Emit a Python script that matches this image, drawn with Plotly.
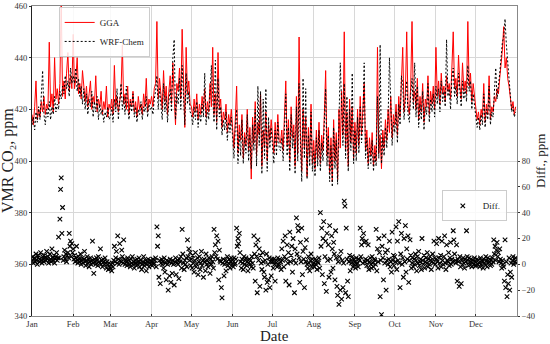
import pandas as pd
import plotly.graph_objects as go

MONTHS = ["Jan", "Feb", "Mar", "Apr", "May", "Jun", "Jul", "Aug", "Sep", "Oct", "Nov", "Dec"]
YEAR_START = "2019-01-01"

# Daily VMR CO2 (ppm), GGA analyser
GGA = [
    418, 414, 421, 431, 416, 420, 417, 423, 419, 425, 418, 422, 420, 446, 421, 426, 419, 440, 424, 428, 422, 430, 463, 425, 431, 424, 434, 442, 427, 433, 428,
    449, 428, 432, 440, 426, 430, 424, 435, 427, 423, 429, 421, 426, 431, 420, 425, 422, 433, 419, 424, 421, 427, 418, 423, 420, 429, 417, 422,
    420, 424, 418, 437, 421, 425, 419, 423, 427, 445, 422, 426, 420, 429, 418, 424, 421, 427, 419, 423, 417, 425, 420, 422, 418, 426, 421, 432, 419, 424, 422,
    425, 421, 428, 430, 454, 424, 432, 426, 420, 435, 423, 429, 418, 427, 433, 422, 438, 425, 414, 430, 427, 436, 424, 451, 429, 413, 444, 426, 431, 422,
    421, 417, 424, 419, 426, 416, 422, 418, 425, 420, 428, 417, 423, 419, 430, 421, 444, 418, 426, 415, 442, 420, 424, 413, 419, 416, 422, 411, 418, 414, 420,
    412, 405, 416, 429, 403, 414, 408, 418, 401, 411, 406, 420, 404, 413, 393, 417, 407, 423, 402, 415, 410, 426, 398, 412, 405, 419, 400, 414, 408, 416,
    410, 403, 415, 406, 418, 408, 407, 412, 404, 419, 431, 406, 416, 400, 421, 409, 414, 398, 425, 403, 448, 411, 396, 420, 405, 417, 394, 413, 402, 422, 399,
    408, 397, 412, 401, 415, 399, 410, 404, 418, 435, 402, 413, 395, 409, 392, 416, 400, 411, 393, 420, 405, 427, 410, 450, 404, 419, 398, 424, 407, 421, 401,
    415, 403, 420, 406, 425, 410, 418, 430, 404, 412, 399, 409, 402, 411, 398, 406, 400, 444, 403, 410, 397, 412, 405, 416, 408, 420, 411, 425, 409, 418,
    414, 422, 410, 425, 417, 428, 444, 419, 426, 450, 421, 418, 429, 454, 423, 427, 420, 432, 416, 425, 419, 430, 415, 424, 421, 433, 418, 427, 422, 429, 420,
    444, 425, 431, 422, 434, 426, 429, 423, 433, 427, 430, 424, 436, 450, 428, 432, 425, 441, 429, 424, 438, 427, 431, 426, 454, 429, 434, 423, 430, 425,
    421, 416, 419, 414, 420, 417, 430, 415, 422, 418, 433, 416, 421, 419, 425, 423, 428, 426, 432, 437, 443, 452, 436, 440, 432, 429, 424, 420, 423, 418, 421,
]

# Daily VMR CO2 (ppm), WRF-Chem model
WRF = [
    414, 417, 412, 419, 415, 421, 416, 424, 435, 418, 414, 420, 417, 423, 416, 421, 418, 425, 419, 422, 420, 427, 424, 429, 426, 433, 428, 431, 425, 436, 430,
    433, 430, 436, 427, 432, 425, 429, 422, 428, 420, 426, 418, 424, 421, 427, 417, 423, 419, 425, 416, 422, 418, 420, 415, 419, 417, 421, 416,
    417, 421, 415, 424, 419, 428, 416, 422, 430, 420, 425, 418, 429, 421, 416, 423, 419, 426, 417, 421, 415, 420, 418, 423, 416, 421, 419, 425, 417, 422, 420,
    421, 418, 424, 427, 433, 420, 428, 423, 416, 430, 419, 425, 415, 423, 428, 419, 440, 447, 416, 426, 422, 432, 420, 437, 425, 414, 434, 422, 427, 419,
    418, 414, 421, 416, 423, 413, 419, 415, 422, 417, 434, 414, 420, 416, 427, 437, 425, 415, 439, 412, 432, 417, 421, 410, 416, 412, 419, 408, 415, 411, 417,
    408, 401, 413, 420, 399, 411, 402, 416, 399, 409, 403, 418, 400, 410, 397, 414, 404, 420, 398, 429, 406, 427, 395, 424, 401, 428, 396, 417, 405, 413,
    406, 399, 412, 402, 415, 405, 404, 409, 400, 416, 426, 402, 413, 396, 418, 405, 411, 395, 421, 400, 430, 407, 392, 432, 401, 428, 393, 410, 398, 419, 396,
    404, 394, 409, 398, 412, 396, 407, 400, 415, 428, 398, 410, 392, 406, 390, 413, 397, 408, 391, 417, 438, 422, 406, 430, 401, 425, 396, 420, 404, 434, 399,
    412, 400, 417, 403, 421, 407, 415, 438, 401, 409, 397, 405, 399, 408, 396, 403, 398, 425, 401, 445, 399, 409, 402, 413, 405, 417, 440, 421, 406, 415,
    411, 419, 407, 422, 414, 433, 430, 416, 423, 431, 418, 415, 426, 432, 420, 438, 417, 429, 413, 422, 416, 427, 412, 421, 418, 430, 415, 424, 419, 426, 417,
    429, 422, 428, 419, 431, 423, 427, 421, 447, 425, 428, 420, 432, 436, 425, 429, 422, 434, 427, 421, 431, 424, 428, 423, 437, 427, 431, 420, 426, 422,
    418, 413, 417, 412, 418, 414, 426, 413, 420, 416, 429, 414, 419, 417, 427, 436, 424, 428, 434, 440, 446, 448, 455, 445, 438, 430, 426, 419, 421, 417, 419,
]

# Difference (ppm), two readings per day
DIFF = [
    3, 6, 1, 4, 5, 2, 8, 3, 0, 5, 7, 2, 4, 9, 3, 1, 6, 4, 2, 7, 5, 3, 10, 4, 6, 1, 3, 8, 4, 2, 12, 5, 3, 7, 1, 4, 6, 9, 3, 5, 21, 5, 35, 58, 67, 24, 44, 3, 6, 11, 4, 8, 2, 7, 9, 5, 24, 14, 18, 6, 16, 9,
    12, 4, 7, 2, 5, 14, 3, 1, 6, 4, 2, 8, 0, 3, 5, 1, 4, 10, 2, -1, 3, 6, 1, 4, -2, 2, 5, 0, 3, 18, 1, -7, 4, 2, 0, 5, 3, -1, 6, 2, 1, 12, 0, 3, -2, 4, 2, 0, 5, 1, -3, 2, 0, -4, 1, -2,
    -3, 0, -5, 1, -2, 3, 14, 2, 5, 10, 1, 22, 4, 0, 16, 3, 2, 11, 6, 1, 19, 4, 0, 3, 2, -1, 5, 1, 3, 0, -2, 4, 1, 6, 0, 2, -3, 3, 1, -1, 4, 0, 2, 5, -2, 1, 3, -4, 0, 2, 6, -1, 1, 3, -5, 0, 2, 4, -2, 1, 3, 0,
    2, -1, 4, 0, 1, 3, 5, -2, 29, 14, 22, -10, 3, -15, 1, 4, 0, 2, -3, 5, -6, 1, -12, 3, 0, -20, 2, -9, 4, -14, 1, -7, 3, 0, -16, 2, 5, -8, 1, 3, 0, -11, 4, 2, 6, -3, 27, 8, 1, -4, 3, 0, 5, -2, 19, 6, 12, 3, 9, -1,
    4, -3, 7, 1, -6, 3, 9, -2, 0, 5, -8, 2, 6, -4, 1, 10, -1, 3, -10, 4, 2, -5, 8, 0, 3, -2, 5, 1, -7, 4, 0, 6, 2, -3, 27, 9, 15, 6, 22, 4, 18, -12, 11, 3, 2, -18, -26, 1, 4, -9, 0, 3, -5, 2, 6, -1, 1, 4, -3, 2, 5, 0,
    3, -2, 5, 0, 1, 4, 28, 14, 20, 16, 24, 9, 2, -3, 4, 1, -4, 6, 0, 3, 5, -1, 2, -5, 1, 4, 0, 3, -2, 6, 1, -3, 22, 8, -13, 15, 6, -22, 19, 3, 12, -17, 7, 1, -4, 9, 2, -6, -10, 3, -20, 8, -14, 0, -12, 5, -18, 2, -9, 4,
    2, -3, 4, 0, -13, 1, 3, -2, 5, 0, -1, 4, 2, -4, 12, 3, 18, -2, 6, 22, -13, 4, 15, 1, 9, -16, 25, 2, 7, 14, -6, 20, 3, -22, 12, 1, 36, 8, 30, 26, 5, -14, 17, 2, 28, -8, 10, 4, -18, 13, 2, 19, 0, -3, 6, 1, -5, 3, 8, -2, 4, 0,
    1, -2, 4, 0, 3, -4, 2, 1, 5, -3, 40, 14, 28, -8, 20, 33, -15, 6, 18, -21, 24, 3, 15, -10, 30, 4, -6, 22, 12, -3, 17, 8, -12, 26, 5, -17, -24, 2, -31, 6, -20, 10, -27, 3, -18, 1, 49, 45, -22, 28, 4, -13, -25, 2, 7, -5, 3, 1, 6, -2, 4, 0,
    2, -3, 5, 0, 1, -2, 4, 3, 28, 6, 15, 20, 1, 24, 17, 2, 4, 18, -1, 3, 15, -4, 2, 5, 0, -3, 6, 1, -2, 4, 3, 0, 27, -5, 12, 2, 20, 9, -25, 3, -39, 14, 5, -12, 22, 1, 9, -20, 3, 11, 0, 4, 18, -2, 2, -6, 25, 3, 7, -1,
    6, 2, 29, -4, 18, 3, 33, 1, -18, 8, 24, 0, 5, -10, 20, 2, 30, -6, 12, 4, 22, -14, 3, 19, 7, -3, 1, 5, -2, 4, 0, 8, 3, -5, 6, 1, 10, -1, 2, 4, -4, 20, 3, 0, 7, -3, 2, 5, 1, 9, -2, 4, 0, 6, 3, -4, 2, 8, 1, 18, 5, 0,
    4, 16, 2, -3, 20, 5, 1, 7, -2, 18, 3, 0, 6, 22, 1, -4, 15, 3, 2, 9, -1, 5, 17, 0, 4, 2, 26, 19, 8, 3, 1, 15, -13, 4, 2, -17, 6, -2, -15, 3, 0, 5, 1, -3, 4, 2, 26, 6, 3, -1, 5, 0, 2, 4, -2, 1, 3, 0, 5, -1,
    2, -1, 4, 0, 3, 1, -2, 5, 0, 3, 2, -3, 4, 1, 0, 6, 3, -2, 5, 1, 2, 4, -1, 3, 0, 5, 2, 19, 8, 14, 3, 11, 17, 6, 9, 2, 12, 4, 1, -3, 3, 0, -2, -13, 19, -18, 2, -25, -8, -15, 5, -20, -6, 1, -10, 3, 6, 0, 4, 2, 5, 1,
]

LEFT_TICKS = [340, 360, 380, 400, 420, 440, 460]
RIGHT_TICKS = [-40, -20, 0, 20, 40, 60, 80]
RIGHT_LABELS = [str(v).replace("-", "\u2212") for v in RIGHT_TICKS]

days = pd.date_range(YEAR_START, periods=len(GGA), freq="D")
half_days = pd.date_range(YEAR_START, periods=len(DIFF), freq="12h")
month_ticks = pd.date_range(YEAR_START, periods=12, freq="MS")

FONT = "Liberation Serif, Times New Roman, serif"
TICK_FONT = dict(size=8.5, color="#333")

fig = go.Figure()
fig.add_trace(go.Scatter(x=days, y=GGA, mode="lines", name="GGA",
                         line=dict(color="#ff0000", width=1), legend="legend"))
fig.add_trace(go.Scatter(x=days, y=WRF, mode="lines", name="WRF-Chem",
                         line=dict(color="black", width=1, dash="2px,2px"), legend="legend"))
fig.add_trace(go.Scatter(x=half_days, y=DIFF, mode="markers", name="Diff.", yaxis="y2",
                         marker=dict(symbol="x-thin", size=4.5, line=dict(color="black", width=1.1), color="black"),
                         legend="legend2"))

fig.update_layout(
    width=550, height=344,
    margin=dict(l=32, r=33, t=6, b=28),
    paper_bgcolor="white", plot_bgcolor="white",
    font=dict(family=FONT, size=10, color="#222"),
    showlegend=True,
    xaxis=dict(
        range=[YEAR_START, "2020-01-01"],
        tickvals=month_ticks, ticktext=MONTHS,
        showgrid=True, gridcolor="#d8d8d8", gridwidth=1,
        showline=True, linecolor="#888", linewidth=1, mirror=True,
        ticks="inside", ticklen=2, tickcolor="#333",
        tickfont=TICK_FONT,
        automargin=False, zeroline=False,
    ),
    yaxis=dict(
        range=[340, 460], tickvals=LEFT_TICKS,
        showgrid=True, gridcolor="#d8d8d8", gridwidth=1,
        showline=True, linecolor="#222", linewidth=1,
        ticks="outside", ticklen=2, tickcolor="#333",
        tickfont=TICK_FONT,
        automargin=False, zeroline=False,
    ),
    yaxis2=dict(
        range=[-40, 200], overlaying="y", side="right",
        tickvals=RIGHT_TICKS, ticktext=RIGHT_LABELS,
        showgrid=False, showline=True, linecolor="#888", linewidth=1,
        ticks="outside", ticklen=2, tickcolor="#333",
        tickfont=TICK_FONT,
        automargin=False, zeroline=False,
    ),
    legend=dict(
        x=0.055, y=0.997, xanchor="left", yanchor="top",
        bgcolor="rgba(255,255,255,0.85)", bordercolor="#cccccc", borderwidth=1,
        font=dict(size=9), itemwidth=30, tracegroupgap=0,
    ),
    legend2=dict(
        x=0.845, y=0.405, xanchor="left", yanchor="top",
        bgcolor="rgba(255,255,255,0.85)", bordercolor="#cccccc", borderwidth=1,
        font=dict(size=9), itemwidth=30,
    ),
    annotations=[
        dict(text="VMR CO\u2082, ppm", xref="paper", yref="paper", x=0, y=0.5,
             xshift=-24, textangle=-90, showarrow=False, font=dict(size=16, color="#222"),
             xanchor="center", yanchor="middle"),
        dict(text="Diff., ppm", xref="paper", yref="paper", x=1, y=0.5,
             xshift=23, textangle=-90, showarrow=False, font=dict(size=13, color="#222"),
             xanchor="center", yanchor="middle"),
        dict(text="Date", xref="paper", yref="paper", x=0.5, y=0,
             yshift=-20, showarrow=False, font=dict(size=15, color="#222"),
             xanchor="center", yanchor="middle"),
    ],
)

fig.write_html("out.html", config={"displayModeBar": False},
               post_script="document.body.style.margin='0';document.body.style.overflow='hidden';")
